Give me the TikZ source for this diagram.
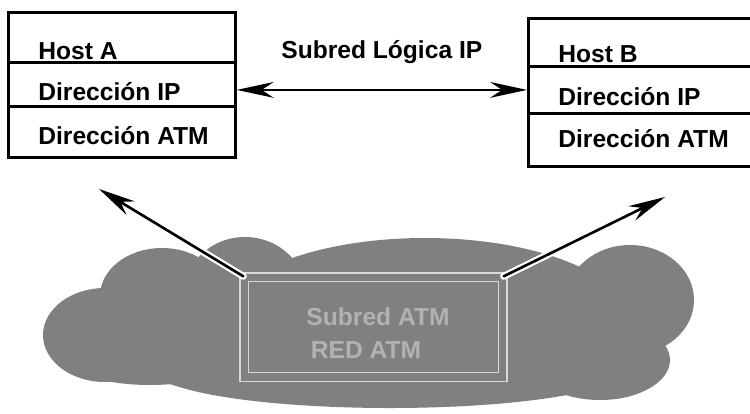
\documentclass[tikz,border=0pt]{standalone}
\usepackage{fontspec}
\setmainfont{Liberation Sans}
\usetikzlibrary{arrows.meta}

\begin{document}
\begin{tikzpicture}[x=0.02cm,y=-0.02cm,>={Stealth[length=21pt,width=9pt]},line cap=round,
  font=\fontsize{14}{16}\selectfont\bfseries,
  row/.style={draw,line width=1.6pt,inner sep=0pt,anchor=north west},
  field/.style={anchor=base west,inner sep=0pt},
  link/.style={line width=1.5pt},
  halo/.style={preaction={draw=white,line width=4pt}},
  lobe/.style={fill=black!50}]
\useasboundingbox (0,0) rectangle (750,413);
\clip (0,0) rectangle (750,413);

% host A
\node[row,minimum width=4.54cm,minimum height=1cm] (rA1) at (7,11) {};
\node[row,minimum width=4.54cm,minimum height=0.88cm] (rA2) at (7,61) {};
\node[row,minimum width=4.54cm,minimum height=1.02cm] (rA3) at (7,105) {};
\node[field] (tA1) at ([shift={(31,-4)}]rA1.south west) {Host A};
\node[field] (tA2) at ([shift={(31,-7)}]rA2.south west) {Dirección IP};
\node[field] (tA3) at ([shift={(31,-14)}]rA3.south west) {Dirección ATM};

% host B
\node[row,minimum width=4.66cm,minimum height=0.96cm] (rB1) at (527,17) {};
\node[row,minimum width=4.66cm,minimum height=0.94cm] (rB2) at (527,65) {};
\node[row,minimum width=4.66cm,minimum height=1.06cm] (rB3) at (527,112) {};
\node[field] (tB1) at ([shift={(31,-5)}]rB1.south west) {Host B};
\node[field] (tB2) at ([shift={(31,-9)}]rB2.south west) {Dirección IP};
\node[field] (tB3) at ([shift={(31,-20)}]rB3.south west) {Dirección ATM};

% logical subnet between the hosts
\node[field] (lis) at (281,58) {Subred Lógica IP};
\draw[link,<->] (rA2.east |- rB2.west) -- (rB2.west);

% ATM cloud
\fill[lobe] (105,335) ellipse [x radius=62,y radius=47];
\fill[lobe] (162,296) ellipse [x radius=62,y radius=48];
\fill[lobe] (245,292) ellipse [x radius=60,y radius=55];
\fill[lobe] (205,345) ellipse [x radius=70,y radius=45];
\fill[lobe] (425,322) ellipse [x radius=205,y radius=84];
\fill[lobe] (630,300) ellipse [x radius=64,y radius=55];
\fill[lobe] (600,360) ellipse [x radius=70,y radius=40];
\fill[lobe] (390,370) ellipse [x radius=235,y radius=38];
\fill[lobe] (150,360) ellipse [x radius=80,y radius=25];

\node[draw=white!70!gray,line width=0.8pt,double=black!50,double distance=4pt,
  minimum width=5.18cm,minimum height=2cm] (atm) at (373.5,327) {};
\node[text=black!30] (lan1) at (378,317) {Subred ATM};
\node[text=black!30] (lan2) at (366,350) {RED ATM};

\coordinate (toA) at (99,189);
\coordinate (toB) at (665,197);
\draw[link,->,halo] (atm.north west) -- (toA);
\draw[link,->,halo] (atm.north east) -- (toB);
\end{tikzpicture}
\end{document}
